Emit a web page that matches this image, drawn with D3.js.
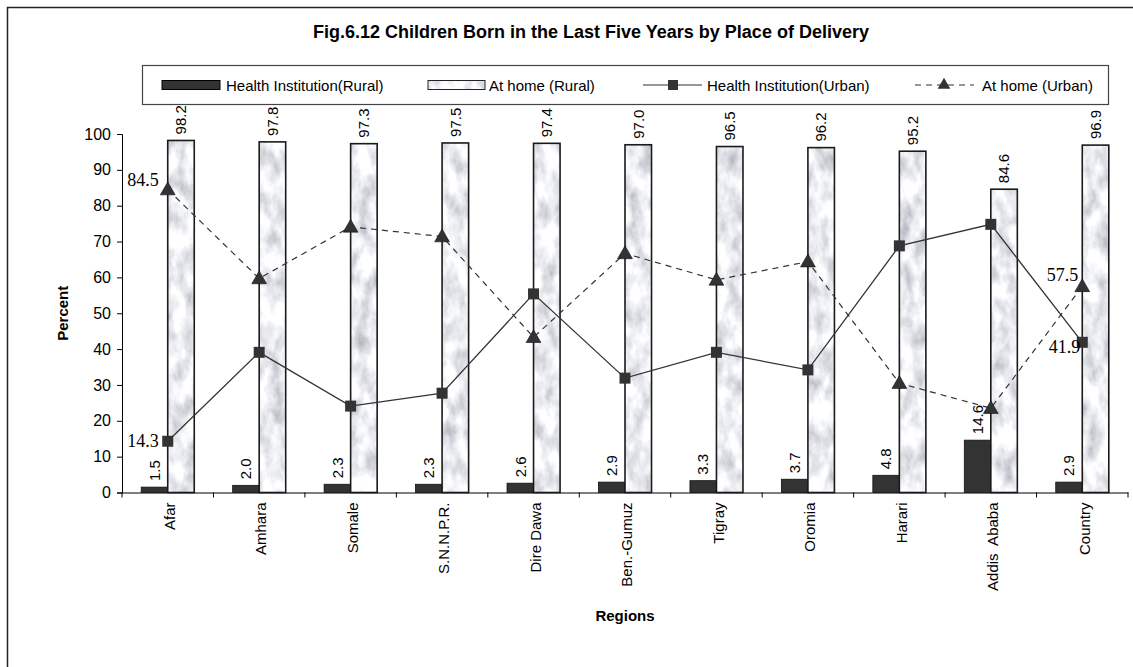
<!DOCTYPE html>
<html>
<head>
<meta charset="utf-8">
<script src="https://cdn.jsdelivr.net/npm/d3@7"></script>
<style>
  body { margin: 0; background: #fff; }
</style>
</head>
<body>
<div id="chart"></div>
<script>
// data
const regions = ["Afar", "Amhara", "Somale", "S.N.N.P.R.", "Dire Dawa", "Ben.-Gumuz",
  "Tigray", "Oromia", "Harari", "Addis  Ababa", "Country"];
const ruralHealth = [1.5, 2.0, 2.3, 2.3, 2.6, 2.9, 3.3, 3.7, 4.8, 14.6, 2.9];
const ruralHome = [98.2, 97.8, 97.3, 97.5, 97.4, 97.0, 96.5, 96.2, 95.2, 84.6, 96.9];
const urbanHealth = [14.3, 39.1, 24.1, 27.7, 55.4, 31.9, 39.1, 34.2, 68.8, 74.8, 41.9];
const urbanHome = [84.5, 59.7, 74.1, 71.4, 43.3, 66.7, 59.3, 64.4, 30.5, 23.5, 57.5];
const yTicks = [0, 10, 20, 30, 40, 50, 60, 70, 80, 90, 100];
// only a few line points carry labels in the original
const labelled = [
  { series: "home", i: 0, dx: -9, dy: -4, anchor: "end" },
  { series: "health", i: 0, dx: -9, dy: 6, anchor: "end" },
  { series: "home", i: 10, dx: -4, dy: -5, anchor: "end" },
  { series: "health", i: 10, dx: -2, dy: 11, anchor: "end" },
];

const width = 1133,
  height = 667,
  marginLeft = 122,
  marginRight = 5,
  marginTop = 134,
  marginBottom = 174.5,
  fontSize = 15,
  sans = "Liberation Sans, Arial, sans-serif",
  dark = "#333333";

const x = d3.scaleBand().domain(regions).range([marginLeft, width - marginRight]);
const y = d3.scaleLinear().domain([0, 100]).range([height - marginBottom, marginTop]);
const bw = x.bandwidth() * 0.29;

const svg = d3
  .select("#chart")
  .append("svg")
  .attr("width", width)
  .attr("height", height)
  .attr("viewBox", [0, 0, width, height])
  .attr("font-family", sans);

// marble texture for the "At home (Rural)" bars
const defs = svg.append("defs");
const filt = defs
  .append("filter")
  .attr("id", "marble")
  .attr("x", 0)
  .attr("y", 0)
  .attr("width", 1)
  .attr("height", 1);
filt
  .append("feTurbulence")
  .attr("type", "fractalNoise")
  .attr("baseFrequency", "0.07 0.04")
  .attr("numOctaves", 4)
  .attr("seed", 7);
filt
  .append("feColorMatrix")
  .attr("type", "matrix")
  .attr("values", "-1.0 0 0 0 1.33  -1.0 0 0 0 1.345  -0.95 0 0 0 1.355  0 0 0 0 1");
const pat = defs
  .append("pattern")
  .attr("id", "marblePat")
  .attr("patternUnits", "userSpaceOnUse")
  .attr("width", width)
  .attr("height", height);
pat
  .append("rect")
  .attr("width", width)
  .attr("height", height)
  .attr("filter", "url(#marble)");

// outer frame (cut at right and bottom like the source)
svg
  .append("rect")
  .attr("x", 7.5)
  .attr("y", 7.5)
  .attr("width", width + 20)
  .attr("height", height + 20)
  .attr("fill", "none")
  .attr("stroke", "#222")
  .attr("stroke-width", 1.5);

// title
svg
  .append("text")
  .attr("x", 591)
  .attr("y", 38)
  .attr("text-anchor", "middle")
  .attr("font-size", 18)
  .attr("font-weight", "bold")
  .text("Fig.6.12 Children Born in the Last Five Years by Place of Delivery");

// legend
const legend = svg.append("g");
legend
  .append("rect")
  .attr("x", 142.5)
  .attr("y", 65.5)
  .attr("width", 966)
  .attr("height", 39)
  .attr("fill", "#fff")
  .attr("stroke", "#444")
  .attr("stroke-width", 1.2);
const ly = 85;
legend
  .append("rect")
  .attr("x", 162)
  .attr("y", ly - 4.5)
  .attr("width", 58)
  .attr("height", 9)
  .attr("fill", dark)
  .attr("stroke", "#000");
legend
  .append("rect")
  .attr("x", 428)
  .attr("y", ly - 4.5)
  .attr("width", 57)
  .attr("height", 9)
  .attr("fill", "url(#marblePat)")
  .attr("stroke", "#222");
legend
  .append("line")
  .attr("x1", 643)
  .attr("x2", 702)
  .attr("y1", ly)
  .attr("y2", ly)
  .attr("stroke", dark)
  .attr("stroke-width", 1.2);
legend
  .append("rect")
  .attr("x", 668)
  .attr("y", ly - 5)
  .attr("width", 10)
  .attr("height", 10)
  .attr("fill", dark);
legend
  .append("line")
  .attr("x1", 915)
  .attr("x2", 974)
  .attr("y1", ly)
  .attr("y2", ly)
  .attr("stroke", dark)
  .attr("stroke-width", 1.2)
  .attr("stroke-dasharray", "6,5");
legend
  .append("path")
  .attr("d", d3.symbol(d3.symbolTriangle, 70)())
  .attr("transform", `translate(944,${ly})`)
  .attr("fill", dark);
legend
  .selectAll("text.lg")
  .data([
    [226, "Health Institution(Rural)"],
    [489, "At home (Rural)"],
    [707, "Health Institution(Urban)"],
    [982, "At home (Urban)"],
  ])
  .join("text")
  .attr("class", "lg")
  .attr("x", (d) => d[0])
  .attr("y", ly + 5.5)
  .attr("font-size", fontSize)
  .text((d) => d[1]);

// y axis
svg
  .append("g")
  .attr("transform", `translate(${marginLeft},0)`)
  .call(d3.axisLeft(y).tickValues(yTicks).tickSize(5).tickPadding(6))
  .call((g) => g.select(".domain").attr("stroke", "#000"))
  .call((g) => g.selectAll(".tick text").attr("font-size", 16).attr("font-family", sans));

// x axis: ticks sit on band edges, labels turned upright
const xAxisG = svg
  .append("g")
  .attr("transform", `translate(0,${height - marginBottom})`)
  .call(d3.axisBottom(x).tickSize(0).tickPadding(0).tickSizeOuter(0))
  .call((g) => g.select(".domain").attr("stroke", "#000"))
  .call((g) =>
    g
      .selectAll(".tick text")
      .attr("font-size", fontSize)
      .attr("font-family", sans)
      .attr("text-anchor", "end")
      .attr("transform", "rotate(-90)")
      .attr("x", -10)
      .attr("y", 2)
      .attr("dy", "0.35em")
      .style("white-space", "pre")
  );
xAxisG
  .selectAll("line.edge")
  .data(regions.map((r) => x(r)).concat([x.range()[1]]))
  .join("line")
  .attr("class", "edge")
  .attr("x1", (d) => d)
  .attr("x2", (d) => d)
  .attr("y1", 0)
  .attr("y2", 5)
  .attr("stroke", "#000");

// bars
const barsG = svg.append("g");
barsG
  .selectAll("rect.rh")
  .data(regions)
  .join("rect")
  .attr("class", "rh")
  .attr("x", (d) => x(d) + x.bandwidth() / 2 - bw)
  .attr("y", (d, i) => y(ruralHealth[i]))
  .attr("width", bw)
  .attr("height", (d, i) => y(0) - y(ruralHealth[i]))
  .attr("fill", dark)
  .attr("stroke", "#111")
  .attr("stroke-width", 0.8);
barsG
  .selectAll("rect.rm")
  .data(regions)
  .join("rect")
  .attr("class", "rm")
  .attr("x", (d) => x(d) + x.bandwidth() / 2)
  .attr("y", (d, i) => y(ruralHome[i]))
  .attr("width", bw)
  .attr("height", (d, i) => y(0) - y(ruralHome[i]))
  .attr("fill", "url(#marblePat)")
  .attr("stroke", "#1a1a1a")
  .attr("stroke-width", 1.6);

// bar value labels, rotated
function barLabels(cls, vals, off) {
  svg
    .append("g")
    .selectAll("text")
    .data(regions)
    .join("text")
    .attr("class", cls)
    .attr("transform", (d, i) => `translate(${x(d) + x.bandwidth() / 2 + off},${y(vals[i]) - 6}) rotate(-90)`)
    .attr("dy", "0.35em")
    .attr("font-size", fontSize)
    .text((d, i) => vals[i].toFixed(1));
}
barLabels("lrh", ruralHealth, -bw / 2);
barLabels("lrm", ruralHome, bw / 2);

// urban lines
const cx = (d) => x(d) + x.bandwidth() / 2;
const line = (vals) => d3.line().x((d) => cx(d)).y((d, i) => y(vals[i]))(regions);

svg
  .append("path")
  .attr("d", line(urbanHome))
  .attr("fill", "none")
  .attr("stroke", dark)
  .attr("stroke-width", 1.2)
  .attr("stroke-dasharray", "6,5");
svg
  .append("path")
  .attr("d", line(urbanHealth))
  .attr("fill", "none")
  .attr("stroke", dark)
  .attr("stroke-width", 1.3);

svg
  .append("g")
  .selectAll("path")
  .data(regions)
  .join("path")
  .attr("d", d3.symbol(d3.symbolTriangle, 95)())
  .attr("transform", (d, i) => `translate(${cx(d)},${y(urbanHome[i]) + 1})`)
  .attr("fill", dark)
  .attr("stroke", "#111")
  .attr("stroke-width", 0.6);
svg
  .append("g")
  .selectAll("rect")
  .data(regions)
  .join("rect")
  .attr("x", (d) => cx(d) - 5.5)
  .attr("y", (d, i) => y(urbanHealth[i]) - 5.5)
  .attr("width", 11)
  .attr("height", 11)
  .attr("fill", dark);

// serif point labels
svg
  .append("g")
  .selectAll("text")
  .data(labelled)
  .join("text")
  .attr("x", (d) => cx(regions[d.i]) + d.dx)
  .attr("y", (d) => y(d.series === "home" ? urbanHome[d.i] : urbanHealth[d.i]) + d.dy)
  .attr("text-anchor", (d) => d.anchor)
  .attr("font-family", "Liberation Serif, Times New Roman, serif")
  .attr("font-size", 18)
  .text((d) => (d.series === "home" ? urbanHome[d.i] : urbanHealth[d.i]).toFixed(1));

// axis titles
svg
  .append("text")
  .attr("transform", `translate(68,${(y(0) + y(100)) / 2}) rotate(-90)`)
  .attr("text-anchor", "middle")
  .attr("font-size", fontSize)
  .attr("font-weight", "bold")
  .text("Percent");
svg
  .append("text")
  .attr("x", (x.range()[0] + x.range()[1]) / 2)
  .attr("y", 621)
  .attr("text-anchor", "middle")
  .attr("font-size", fontSize)
  .attr("font-weight", "bold")
  .text("Regions");
</script>
</body>
</html>
